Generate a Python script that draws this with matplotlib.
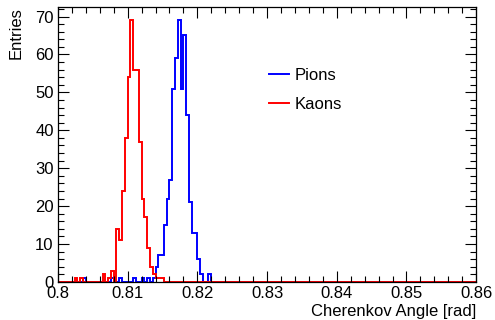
import matplotlib
matplotlib.use("Agg")
import matplotlib.pyplot as plt
from matplotlib.ticker import MultipleLocator, FormatStrFormatter
import numpy as np

# histogram binning (150 bins over 0.80 - 0.86 rad)
x_lo = 0.80
x_hi = 0.86
n_bins = 150

# non-empty bins: bin index -> entries
pion_bins = [9, 19, 22, 27, 30, 32, 34, 35, 36, 37, 38, 39, 40, 41, 42, 43,
             44, 45, 46, 47, 48, 49, 50, 51, 54]
pion_counts = [1, 1, 1, 1, 1, 1, 1, 4, 7, 7, 15, 22, 27, 51, 59, 69,
               51, 65, 44, 21, 13, 13, 6, 2, 2]

kaon_bins = [6, 8, 16, 18, 19, 21, 22, 23, 24, 25, 26, 27, 28, 29, 30, 31,
             32, 33, 34, 35, 36, 37]
kaon_counts = [1, 1, 2, 1, 3, 14, 11, 24, 38, 54, 69, 56, 56, 37, 22, 17,
               9, 4, 2, 1, 1, 1]

edges = np.linspace(x_lo, x_hi, n_bins + 1)
pions = np.zeros(n_bins)
pions[pion_bins] = pion_counts
kaons = np.zeros(n_bins)
kaons[kaon_bins] = kaon_counts

plt.rcParams['font.family'] = ['Liberation Sans', 'DejaVu Sans']
plt.rcParams['font.size'] = 12

fig = plt.figure(figsize=(4.95, 3.2), dpi=100)
ax = fig.add_axes([0.117, 0.119, 0.845, 0.859])

ax.stairs(pions, edges, color='#0000ff', lw=1.4, label='Pions', clip_on=False)
ax.stairs(kaons, edges, color='#ff0000', lw=1.4, label='Kaons', clip_on=False)

ax.set_xlim(x_lo, x_hi)
ax.set_ylim(0, 72.5)
ax.xaxis.set_major_locator(MultipleLocator(0.01))
ax.xaxis.set_minor_locator(MultipleLocator(0.002))
ax.xaxis.set_major_formatter(FormatStrFormatter('%g'))
ax.yaxis.set_major_locator(MultipleLocator(10))
ax.yaxis.set_minor_locator(MultipleLocator(2))
ax.tick_params(which='both', direction='in', top=True, right=True, width=0.8)
ax.tick_params(which='major', length=8)
ax.tick_params(which='minor', length=4)
ax.tick_params(axis='x', pad=3)
ax.tick_params(axis='y', pad=3)
for s in ax.spines.values():
    s.set_linewidth(0.9)

ax.set_xlabel('Cherenkov Angle [rad]', loc='right', labelpad=2)
ax.set_ylabel('Entries', loc='top', labelpad=8)

ax.legend(loc='upper left', bbox_to_anchor=(0.505, 0.778), frameon=False,
          handlelength=1.2, handletextpad=0.3, labelspacing=0.85,
          borderpad=0, borderaxespad=0, fontsize=12)

fig.savefig('out.png', dpi=100)
